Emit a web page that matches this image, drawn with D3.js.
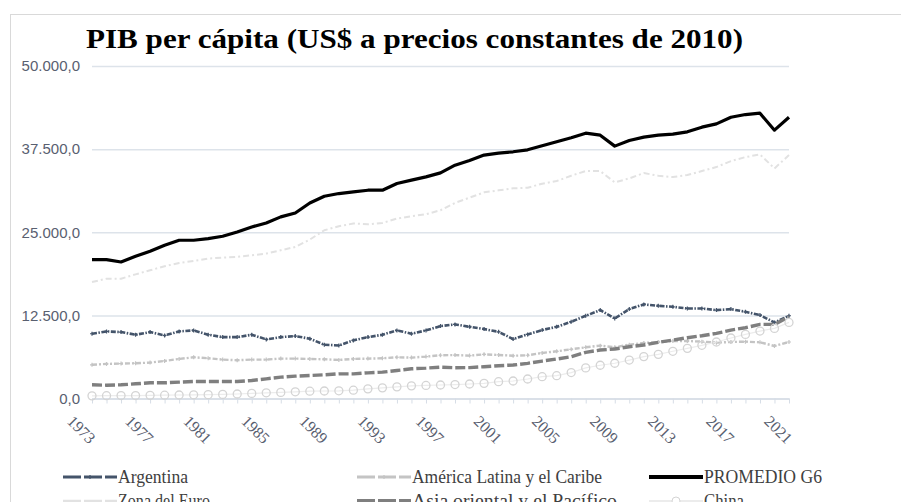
<!DOCTYPE html>
<html>
<head>
<meta charset="utf-8">
<script src="https://cdn.jsdelivr.net/npm/d3@7"></script>
<style>
  body { margin: 0; background: #fff; }
  svg { display: block; }
</style>
</head>
<body>
<svg id="chart" width="901" height="502"></svg>
<script>
// years on the category axis
const years = d3.range(1973, 2022);
const yTicks = [0, 12500, 25000, 37500, 50000];

// series values (US$ constant 2010)
const argentina = [9740, 10090, 9990, 9590, 9990, 9490, 10090, 10240, 9590, 9230,
  9230, 9590, 8890, 9230, 9390, 8990, 8090, 7980, 8740, 9230,
  9590, 10240, 9740, 10240, 10890, 11140, 10780, 10440, 10030, 8940,
  9640, 10290, 10780, 11530, 12440, 13290, 12040, 13440, 14150, 13940,
  13790, 13540, 13540, 13290, 13440, 13040, 12540, 11440, 12440];
const americaLatina = [5070, 5200, 5250, 5300, 5400, 5650, 5950, 6200, 6050, 5850,
  5750, 5850, 5850, 6000, 6000, 5950, 5900, 5800, 5950, 6000,
  6050, 6200, 6150, 6300, 6500, 6530, 6450, 6640, 6550, 6430,
  6500, 6850, 7100, 7400, 7700, 7950, 7700, 8100, 8350, 8500,
  8650, 8650, 8550, 8400, 8500, 8550, 8450, 7900, 8500];
const promedioG6 = [20880, 20880, 20530, 21380, 22140, 23040, 23800, 23800, 24050, 24400,
  25050, 25800, 26400, 27310, 27900, 29400, 30420, 30820, 31070, 31320,
  31320, 32330, 32830, 33330, 33930, 35090, 35800, 36600, 36900, 37100,
  37400, 38000, 38600, 39200, 39900, 39600, 37950, 38800, 39300, 39600,
  39750, 40100, 40800, 41300, 42300, 42700, 42900, 40350, 42300];
const zonaEuro = [17520, 18020, 18020, 18670, 19280, 19880, 20380, 20680, 21040, 21190,
  21290, 21540, 21790, 22290, 22790, 23900, 25300, 25900, 26310, 26200,
  26400, 27060, 27410, 27710, 28310, 29410, 30200, 31000, 31300, 31600,
  31700, 32300, 32700, 33500, 34200, 34200, 32500, 33100, 33900, 33500,
  33300, 33600, 34200, 34800, 35700, 36300, 36700, 34600, 36600];
const asiaOriental = [2060, 2000, 2060, 2210, 2360, 2360, 2460, 2560, 2560, 2560,
  2560, 2710, 2960, 3210, 3360, 3460, 3560, 3710, 3710, 3860,
  3960, 4210, 4470, 4570, 4720, 4630, 4650, 4780, 4930, 5030,
  5290, 5630, 5930, 6280, 6940, 7290, 7440, 7790, 8040, 8440,
  8790, 9140, 9440, 9790, 10290, 10640, 11140, 11140, 12290];
const china = [400, 420, 440, 440, 470, 500, 530, 560, 580, 620,
  680, 770, 860, 920, 1010, 1100, 1130, 1160, 1250, 1450,
  1600, 1750, 1900, 1960, 2030, 2100, 2180, 2280, 2530, 2630,
  2930, 3280, 3430, 3900, 4600, 5000, 5300, 5780, 6300, 6640,
  7100, 7540, 8000, 8500, 9100, 9640, 10140, 10540, 11440];

const seriesNames = ["Argentina", "América Latina y el Caribe", "PROMEDIO G6",
  "Zona del Euro", "Asia oriental y el Pacífico", "China"];

const series = [
  { name: seriesNames[0], values: argentina, color: "#44546a", width: 2.6, dash: "5,1.5,1.5,1.5", marker: "cross" },
  { name: seriesNames[1], values: americaLatina, color: "#c4c4c4", width: 2.4, dash: "5,2,2,2", marker: "cross" },
  { name: seriesNames[2], values: promedioG6, color: "#000000", width: 3.2, dash: null, marker: null },
  { name: seriesNames[3], values: zonaEuro, color: "#e2e2e2", width: 2, dash: "6,3,2,3", marker: null },
  { name: seriesNames[4], values: asiaOriental, color: "#7f7f7f", width: 3.4, dash: "10,3", marker: null },
  { name: seriesNames[5], values: china, color: "#ececec", width: 1.2, dash: null, marker: "circle" }
];

const svg = d3.select("#chart");

// chart frame
svg.append("rect")
  .attr("x", 10.5).attr("y", 14.5)
  .attr("width", 900).attr("height", 500)
  .attr("fill", "#fff")
  .attr("stroke", "#d9d9d9");

// title
svg.append("text")
  .attr("x", 86).attr("y", 48)
  .attr("textLength", 657)
  .attr("lengthAdjust", "spacingAndGlyphs")
  .style("font-family", "'Liberation Serif', 'Times New Roman', serif")
  .style("font-weight", "bold")
  .style("font-size", "28px")
  .attr("fill", "#000")
  .text("PIB per cápita (US$ a precios constantes de 2010)");

const x = d3.scalePoint().domain(years).range([92, 789]);
const y = d3.scaleLinear().domain([0, 50000]).range([398.5, 66]);

const esLocale = d3.formatLocale({ decimal: ",", thousands: ".", grouping: [3], currency: ["", "$"] });
const fmt = esLocale.format(",.1f");

// gridlines + y labels
const yAxis = svg.append("g")
  .attr("transform", "translate(92,0)")
  .call(d3.axisLeft(y).tickValues(yTicks).tickSize(-(789 - 92)).tickFormat(fmt));
yAxis.select(".domain").remove();
yAxis.selectAll(".tick line").attr("stroke", "#dde3ea").attr("stroke-width", 1.5);
yAxis.selectAll(".tick text")
  .attr("x", -12)
  .style("font-family", "'Liberation Sans', Arial, sans-serif")
  .style("font-size", "15px")
  .attr("fill", "#596070");

// x axis
const xAxis = svg.append("g")
  .attr("transform", "translate(0,398.5)")
  .call(d3.axisBottom(x).tickSize(5).tickSizeOuter(0)
    .tickFormat(d => (d - 1973) % 4 === 0 ? d : ""));
xAxis.select(".domain").attr("stroke", "#d6dde6").attr("stroke-width", 1.5);
xAxis.selectAll(".tick line").attr("stroke", "#d6dde6");
xAxis.selectAll(".tick text")
  .attr("y", 0).attr("dy", "0.35em")
  .attr("text-anchor", "middle")
  .attr("transform", "translate(-11,31) rotate(45)")
  .style("font-family", "'Liberation Serif', 'Times New Roman', serif")
  .style("font-size", "16px")
  .attr("fill", "#596070");

// lines
const line = d3.line()
  .x((d, i) => x(years[i]))
  .y(d => y(d));

const crossPath = "M-2,0H2M0,-2V2";

series.forEach(s => {
  svg.append("path")
    .datum(s.values)
    .attr("fill", "none")
    .attr("stroke", s.color)
    .attr("stroke-width", s.width)
    .attr("stroke-dasharray", s.dash)
    .attr("stroke-linejoin", "round")
    .attr("d", line);

  if (s.marker === "cross") {
    svg.append("g").selectAll("path")
      .data(s.values)
      .join("path")
      .attr("transform", (d, i) => "translate(" + x(years[i]) + "," + y(d) + ")")
      .attr("d", crossPath)
      .attr("stroke", s.color)
      .attr("stroke-width", 1.2);
  }
  if (s.marker === "circle") {
    svg.append("g").selectAll("circle")
      .data(s.values)
      .join("circle")
      .attr("cx", (d, i) => x(years[i]))
      .attr("cy", d => y(d))
      .attr("r", 4)
      .attr("fill", "none")
      .attr("stroke", "#d4d4d4")
      .attr("stroke-width", 1.3);
  }
});

// legend
const legendCols = [63, 357, 649];
const legendRows = [477, 501];
const legendTextLen = [70, 190, 118, 92, 205, 40];

series.forEach((s, i) => {
  const lx = legendCols[i % 3];
  const ly = legendRows[Math.floor(i / 3)];
  const g = svg.append("g");
  g.append("line")
    .attr("x1", lx).attr("x2", lx + 54)
    .attr("y1", ly).attr("y2", ly)
    .attr("stroke", s.color)
    .attr("stroke-width", s.width + 0.6)
    .attr("stroke-dasharray", s.dash ? "18,3" : null);
  if (s.marker === "cross") {
    g.append("path")
      .attr("transform", "translate(" + (lx + 27) + "," + ly + ")")
      .attr("d", crossPath)
      .attr("stroke", s.color)
      .attr("stroke-width", 1.2);
  }
  if (s.marker === "circle") {
    g.append("circle")
      .attr("cx", lx + 27).attr("cy", ly).attr("r", 4)
      .attr("fill", "#fff")
      .attr("stroke", "#d4d4d4");
  }
  g.append("text")
    .attr("x", lx + 55).attr("y", ly + 6)
    .attr("textLength", legendTextLen[i])
    .attr("lengthAdjust", "spacingAndGlyphs")
    .style("font-family", "'Liberation Serif', 'Times New Roman', serif")
    .style("font-size", "19px")
    .attr("fill", "#404040")
    .text(s.name);
});
</script>
</body>
</html>
